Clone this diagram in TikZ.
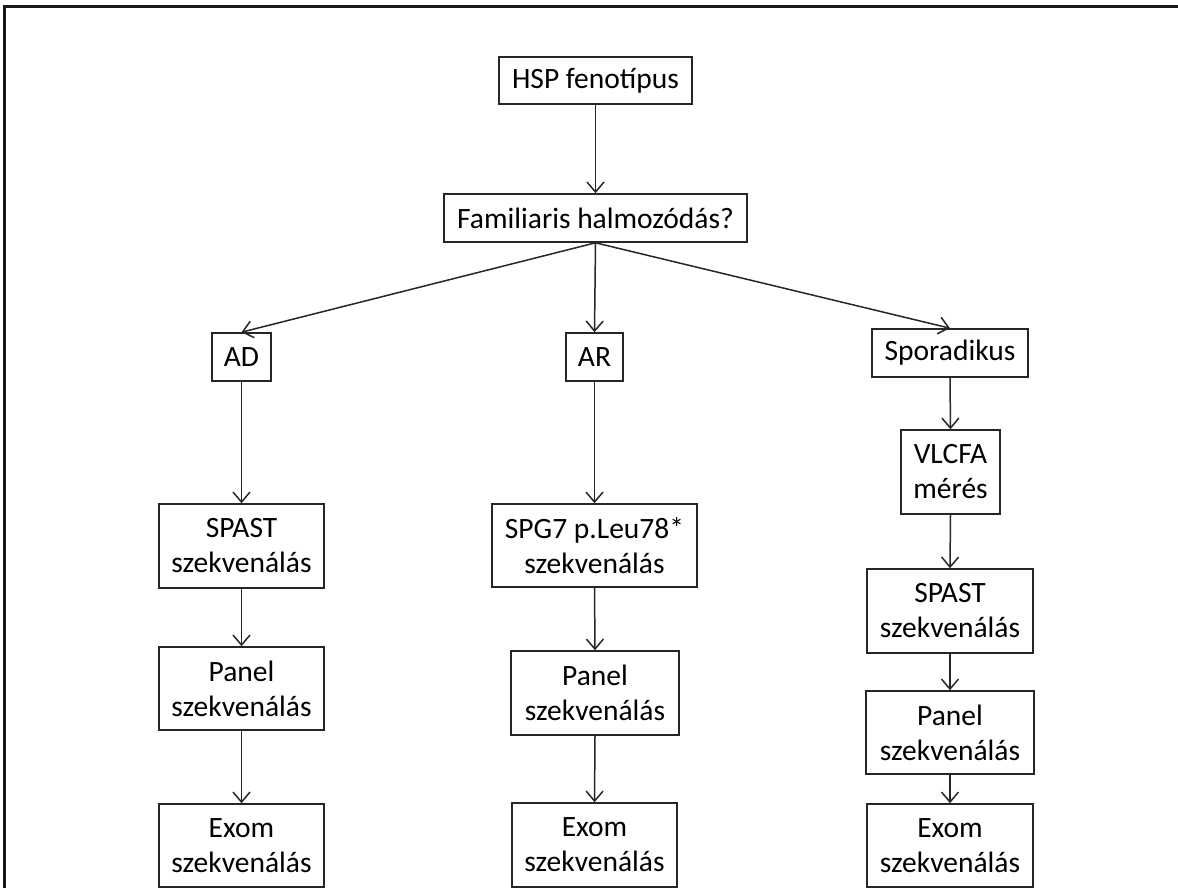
\documentclass[tikz,border=0pt]{standalone}
\usepackage{fontspec}
\setmainfont{Carlito}
\usetikzlibrary{arrows.meta}
\begin{document}
\begin{tikzpicture}[x=1pt,y=-1pt,
  box/.style={draw=black!85,line width=1.6pt,inner sep=0pt,align=center,
    font=\fontsize{29.5}{35}\selectfont},
  conn/.style={draw=black!85,line width=1.5pt,-{Straight Barb[length=10pt,width=17pt,line width=1.5pt]}}]
\useasboundingbox (0,0) rectangle (1178,888);
\begin{scope}
\clip (0,0) rectangle (1178,888);
\draw[line width=2.2pt,black!90] (4.5,888) -- (4.5,6.5) -- (1178,6.5);
\node[box,minimum width=193pt,minimum height=47pt] (hsp) at (595.5,80.5) {HSP fenotípus};
\node[box,minimum width=303pt,minimum height=48pt] (fam) at (595.5,218) {Familiaris halmozódás?};
\node[box,minimum width=59pt,minimum height=48pt] (ad) at (241.5,357) {AD};
\node[box,minimum width=57pt,minimum height=48pt] (ar) at (594.5,357) {AR};
\node[box,minimum width=156pt,minimum height=48pt] (spor) at (950,353) {Sporadikus};
\node[box,minimum width=165pt,minimum height=84pt] (spastA) at (241.5,546) {SPAST\\szekvenálás};
\node[box,minimum width=165pt,minimum height=83pt] (panelA) at (241.5,688.5) {Panel\\szekvenálás};
\node[box,minimum width=165pt,minimum height=83pt] (exomA) at (241.5,845.5) {Exom\\szekvenálás};
\node[box,minimum width=205pt,minimum height=83pt] (spg) at (594.5,545.5) {SPG7 p.Leu78*\\szekvenálás};
\node[box,minimum width=168pt,minimum height=84pt] (panelB) at (595,693) {Panel\\szekvenálás};
\node[box,minimum width=165pt,minimum height=84pt] (exomB) at (594.5,845) {Exom\\szekvenálás};
\node[box,minimum width=99pt,minimum height=84pt] (vlcfa) at (950.5,472) {VLCFA\\mérés};
\node[box,minimum width=166pt,minimum height=84pt] (spastC) at (950,611) {SPAST\\szekvenálás};
\node[box,minimum width=168pt,minimum height=83pt] (panelC) at (950,732.5) {Panel\\szekvenálás};
\node[box,minimum width=166pt,minimum height=83pt] (exomC) at (950,845.5) {Exom\\szekvenálás};
\draw[conn] (hsp.south) -- (fam.north);
\draw[conn] (fam.south) -- (ad.north);
\draw[conn] (fam.south) -- (ar.north);
\draw[conn] (fam.south) -- (spor.north);
\draw[conn] (ad.south) -- (spastA.north);
\draw[conn] (spastA.south) -- (panelA.north);
\draw[conn] (panelA.south) -- (exomA.north);
\draw[conn] (ar.south) -- (spg.north);
\draw[conn] (spg.south) -- (panelB.north);
\draw[conn] (panelB.south) -- (exomB.north);
\draw[conn] (spor.south) -- (vlcfa.north);
\draw[conn] (vlcfa.south) -- (spastC.north);
\draw[conn] (spastC.south) -- (panelC.north);
\draw[conn] (panelC.south) -- (exomC.north);
\end{scope}
\end{tikzpicture}
\end{document}
